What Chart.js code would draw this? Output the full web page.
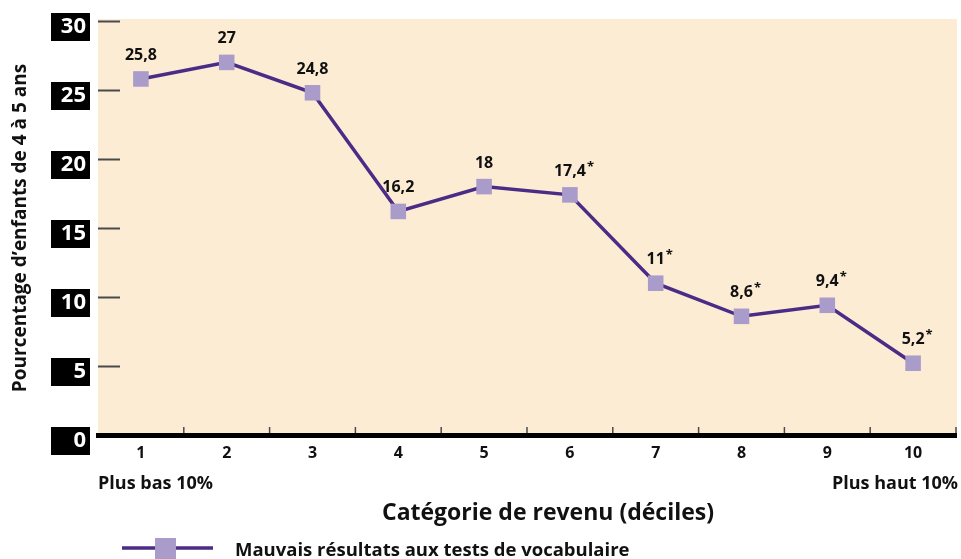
<!DOCTYPE html>
<html>
<head>
<meta charset="utf-8">
<script src="https://cdn.jsdelivr.net/npm/chart.js@4.4.1/dist/chart.umd.min.js"></script>
<style>
    html, body { margin: 0; padding: 0; background: #fff; }
    canvas { display: block; }
</style>
</head>
<body>
<canvas id="vocabChart" width="961" height="559"></canvas>
<script>
const deciles = ["1", "2", "3", "4", "5", "6", "7", "8", "9", "10"];
const values = [25.8, 27, 24.8, 16.2, 18, 17.4, 11, 8.6, 9.4, 5.2];
const valueLabels = ["25,8", "27", "24,8", "16,2", "18", "17,4", "11", "8,6", "9,4", "5,2"];
const starred = [false, false, false, false, false, true, true, true, true, true];
const yTicks = [0, 5, 10, 15, 20, 25, 30];

const FONT = "'Open Sans', 'DejaVu Sans', sans-serif";
const LINE = "#4a2c87";
const MARK = "#a99bca";
const BEIGE = "#fcecd4";

// beige plot, black tick boxes, short ticks, category marks
const decor = {
    id: "decor",
    beforeDraw(chart) {
        const { ctx, chartArea: a, scales: { x, y } } = chart;
        ctx.save();
        ctx.fillStyle = BEIGE;
        ctx.fillRect(a.left, a.top - 2, a.right - a.left + 1, a.bottom - a.top + 2);

        ctx.fillStyle = "#000";
        yTicks.forEach(v => {
            const py = y.getPixelForValue(v);
            ctx.fillRect(51, py - 8, 39, 28);
        });

        ctx.strokeStyle = "#4a4a4a";
        ctx.lineWidth = 2;
        yTicks.forEach(v => {
            if (v === 0) return;
            const py = Math.round(y.getPixelForValue(v)) + 0.5;
            ctx.beginPath();
            ctx.moveTo(a.left, py);
            ctx.lineTo(a.left + 22, py);
            ctx.stroke();
        });

        ctx.lineWidth = 1.5;
        for (let i = 1; i <= deciles.length; i++) {
            const px = i < deciles.length
                ? (x.getPixelForValue(i - 1) + x.getPixelForValue(i)) / 2
                : a.right;
            ctx.beginPath();
            ctx.moveTo(px, a.bottom - 8);
            ctx.lineTo(px, a.bottom);
            ctx.stroke();
        }
        ctx.restore();
    },
    afterDatasetsDraw(chart) {
        const { ctx } = chart;
        const meta = chart.getDatasetMeta(0);
        ctx.save();
        ctx.fillStyle = "#111";
        meta.data.forEach((pt, i) => {
            ctx.font = `bold 16px ${FONT}`;
            ctx.textAlign = "center";
            ctx.textBaseline = "alphabetic";
            const ty = pt.y - 19;
            ctx.fillText(valueLabels[i], pt.x, ty);
            if (starred[i]) {
                const w = ctx.measureText(valueLabels[i]).width;
                ctx.font = `bold 13px ${FONT}`;
                ctx.textAlign = "left";
                ctx.fillText("*", pt.x + w / 2 + 1, ty - 5);
            }
        });
        ctx.restore();
    },
    afterDraw(chart) {
        const { ctx, chartArea: a } = chart;
        ctx.save();
        ctx.fillStyle = "#111";
        ctx.textBaseline = "alphabetic";

        ctx.font = `bold 18px ${FONT}`;
        ctx.textAlign = "left";
        ctx.fillText("Plus bas 10%", a.left, 489);
        ctx.textAlign = "right";
        ctx.fillText("Plus haut 10%", 958, 489);

        ctx.font = `bold 23px ${FONT}`;
        ctx.textAlign = "center";
        ctx.fillText("Catégorie de revenu (déciles)", 548, 520);

        // legend
        const ds = chart.data.datasets[0];
        ctx.strokeStyle = ds.borderColor;
        ctx.lineWidth = 3.5;
        ctx.beginPath();
        ctx.moveTo(122, 548);
        ctx.lineTo(213, 548);
        ctx.stroke();
        ctx.fillStyle = ds.pointBackgroundColor;
        ctx.fillRect(155, 538, 21, 21);
        ctx.fillStyle = "#111";
        ctx.font = `bold 18.5px ${FONT}`;
        ctx.textAlign = "left";
        ctx.fillText(ds.label, 235, 556);
        ctx.restore();
    }
};

new Chart(document.getElementById("vocabChart"), {
    type: "line",
    data: {
        labels: deciles,
        datasets: [{
            label: "Mauvais résultats aux tests de vocabulaire",
            data: values,
            borderColor: LINE,
            borderWidth: 3.5,
            tension: 0,
            pointStyle: "rect",
            pointRadius: 11,
            pointHoverRadius: 11,
            pointBorderWidth: 0,
            pointBackgroundColor: MARK,
            pointBorderColor: MARK
        }]
    },
    options: {
        responsive: false,
        animation: false,
        layout: {
            autoPadding: false,
            padding: { top: 21, right: 5, bottom: 0, left: 0 }
        },
        plugins: {
            legend: { display: false },
            tooltip: { enabled: false }
        },
        scales: {
            x: {
                offset: true,
                grid: { display: false, drawTicks: false },
                border: { display: true, color: "#000", width: 5 },
                ticks: {
                    color: "#111",
                    font: { family: FONT, size: 16, weight: "bold" },
                    padding: 9,
                    maxRotation: 0
                },
                afterFit: s => {
                    s.height = 124;
                    s.paddingLeft = 0;
                    s.paddingRight = 0;
                }
            },
            y: {
                min: 0,
                max: 30,
                grid: { display: false, drawTicks: false },
                border: { display: false },
                ticks: {
                    stepSize: 5,
                    color: "#fff",
                    font: { family: FONT, size: 22, weight: "bold" },
                    padding: 12,
                    labelOffset: 6
                },
                title: {
                    display: true,
                    text: "Pourcentage d’enfants de 4 à 5 ans",
                    color: "#111",
                    font: { family: FONT, size: 19, weight: "bold" },
                    padding: { top: 9, bottom: 0 }
                },
                afterFit: s => {
                    s.width = 98;
                    s.paddingTop = 0;
                    s.paddingBottom = 0;
                }
            }
        }
    },
    plugins: [decor]
});
</script>
</body>
</html>
